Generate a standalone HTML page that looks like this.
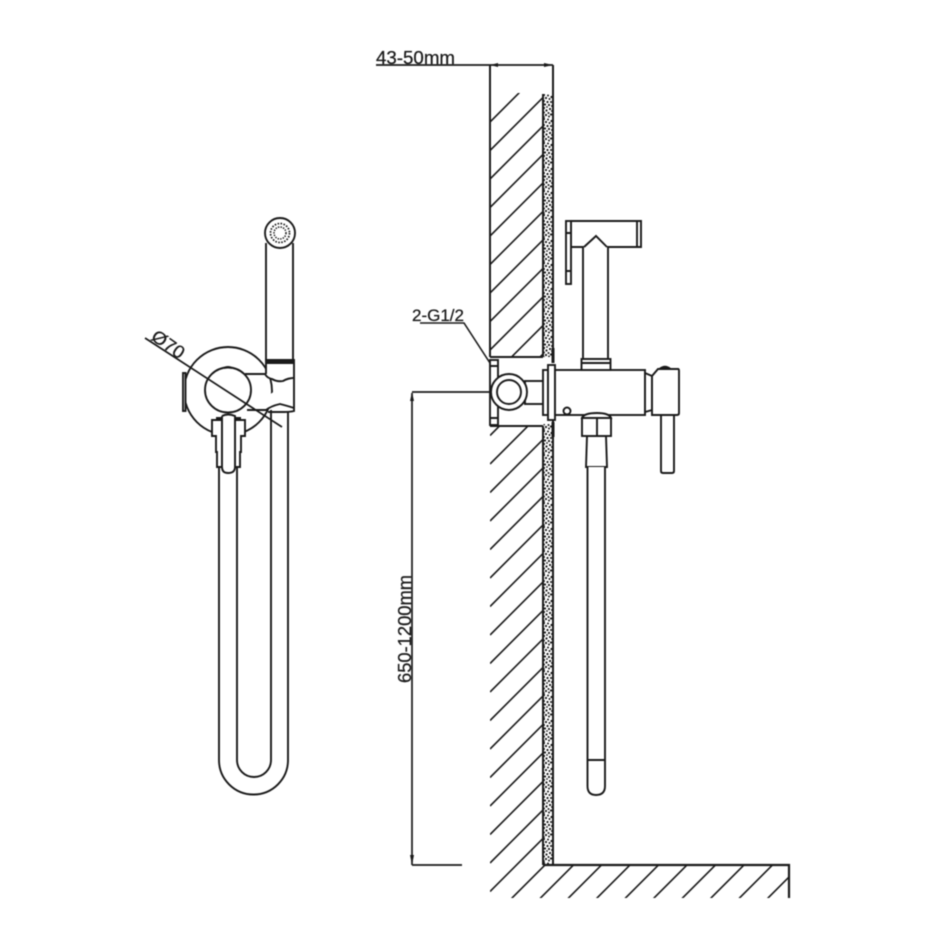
<!DOCTYPE html>
<html><head><meta charset="utf-8"><style>
html,body{margin:0;padding:0;background:#fff}
svg{display:block;filter:blur(0.4px)}
text{font-family:"Liberation Sans",sans-serif;fill:#1a1a1a;stroke:#1a1a1a;stroke-width:.25px}
</style></head><body>
<svg width="950" height="950" viewBox="0 0 950 950" xmlns="http://www.w3.org/2000/svg">
<defs>
<clipPath id="h"><path d="M490,93H543V357H490ZM490,426H543V865H789V898H490Z"/></clipPath>
<pattern id="st" width="10" height="24" patternUnits="userSpaceOnUse" x="543" y="94">
<g fill="#1a1a1a">
<circle cx="1" cy="1" r="1.100"/><circle cx="5" cy="1.500" r="1"/><circle cx="8.500" cy="3" r="1.100"/><circle cx="3" cy="4" r="1.100"/><circle cx="6.500" cy="5" r="1"/><circle cx="1" cy="7" r="1"/><circle cx="4.500" cy="8" r="1.100"/><circle cx="8" cy="8" r="1"/><circle cx="2" cy="10.500" r="1.100"/><circle cx="6" cy="11" r="1.100"/><circle cx="9" cy="12" r="1"/><circle cx="4" cy="13" r=".9"/><circle cx="1" cy="14" r="1.100"/><circle cx="7" cy="15" r="1.100"/><circle cx="3.500" cy="16.500" r="1.100"/><circle cx="9" cy="17" r="1"/><circle cx="1" cy="18.500" r="1"/><circle cx="5.500" cy="19" r="1"/><circle cx="8" cy="20.500" r="1.100"/><circle cx="3" cy="21" r="1.100"/><circle cx="6" cy="22.500" r="1"/><circle cx="1" cy="23" r=".9"/>
</g></pattern>
</defs>
<rect width="950" height="950" fill="#fff"/>

<!-- wall hatching -->
<g clip-path="url(#h)" stroke="#1a1a1a" stroke-width="1.600" fill="none">
<path d="M490,122L572,40M490,150.500L600,40.500M490,179L629,40M490,207.500L657,40.500M490,236L686,40M490,264.500L714,40.500M490,293L743,40M490,321.500L771,40.500M490,350L800,40M490,378.500L800,68.500M490,407L800,97M490,435.500L800,125.500M490,464L800,154M490,492.500L800,182.500M490,521L800,211M490,549.500L800,239.500M490,578L800,268M490,606.500L800,296.500M490,635L800,325M490,663.500L800,353.500M490,692L800,382M490,720.500L800,410.500M490,749L800,439M490,777.500L800,467.500M490,806L800,496M490,834.500L800,524.500M490,863L800,553M490,891.500L800,581.500M490,920L800,610M512,926.500L800,638.500M540,926.500L800,666.500M568.500,926.500L800,695M597,926.500L800,723.500M625.500,926.500L800,752M654,926.500L800,780.500M682.500,926.500L800,809M711,926.500L800,837.500M739.500,926.500L800,866M768,926.500L800,894.500"/>
</g>

<!-- wall outlines, plaster -->
<rect x="543.500" y="94" width="9.500" height="263" fill="url(#st)"/>
<rect x="543.500" y="424" width="9.500" height="441" fill="url(#st)"/>
<g stroke="#1a1a1a" fill="none" stroke-width="2">
<path d="M490,65V357M553,65V350M543,94V357M543,426V865"/>
<path d="M553,420V865"/>
<path d="M543,865H789V898" stroke-width="2.200"/>
<path d="M490,357H543M490,426H543"/>
<!-- dims -->
<path d="M376,65H553" stroke-width="1.800"/>
<path d="M412,393V865M412,392H508M412,865H462" stroke-width="1.700"/>
<path d="M420,323H464L501,380" stroke-width="1.600"/>
</g>
<g fill="#1a1a1a">
<path d="M490,65L498,63V67ZM553,65L544,63V67ZM412,392L410,401H414ZM412,865L410,855H414Z"/>
</g>
<text x="376" y="64" font-size="18" textLength="79" lengthAdjust="spacingAndGlyphs">43-50mm</text>
<text x="412" y="321" font-size="16.500" textLength="52" lengthAdjust="spacingAndGlyphs">2-G1/2</text>
<text transform="translate(411,683) rotate(-90)" font-size="18" textLength="108" lengthAdjust="spacingAndGlyphs">650-1200mm</text>

<!-- side view: valve -->
<g stroke="#1a1a1a" stroke-width="1.900" fill="#fff">
<rect x="490" y="360" width="8" height="65"/>
<path d="M490,366H498M490,418H498" fill="none"/>
<rect x="525" y="381" width="19" height="23"/>
<circle cx="509" cy="392" r="18"/>
<circle cx="509" cy="392" r="12"/>
<rect x="543" y="370" width="5" height="45"/>
<rect x="548" y="365" width="7" height="55"/>
<path d="M553,348V363M553,422V437" stroke-width="3" fill="none"/>
<rect x="555" y="370" width="90" height="45"/>
<circle cx="567" cy="411" r="3.500"/>
<path d="M645,373L652,376V410L645,412Z"/>
<path d="M660,369Q665,365 670,369" stroke-width="2.500"/>
<path d="M658,369H678Q679,369 679,371V413Q679,415 677,415H652V376Z"/>
<path d="M661,415H674V471Q674,473 672,473H663Q661,473 661,471Z"/>
<!-- handspray -->
<path d="M583,359V247H571V221H641V247H608V359Z"/>
<path d="M584,247L596,236L607,247" fill="#fff"/>
<rect x="566" y="221" width="5" height="63"/>
<path d="M566,233H571M566,271H571" fill="none"/>
<path d="M637,221V247" fill="none"/>
<rect x="581.500" y="359" width="29" height="11"/>
<path d="M581.500,363H610.500" fill="none"/>
<!-- lower fitting -->
<path d="M582,418Q584,413 597,413Q609,413 611,418Z"/>
<path d="M587,436H606L607,467H586Z"/>
<rect x="582" y="418" width="29" height="18"/>
<path d="M597,418V436" fill="none"/>
<path d="M587.500,467V786Q587.500,795 596,795Q605,795 605,786V467" />
<path d="M587.500,760H605" fill="none"/>
</g>

<!-- front view -->
<g stroke="#1a1a1a" stroke-width="1.900" fill="none">
<path d="M219,460V760A34.500,34.500 0 0 0 288,760V410"/>
<path d="M237,460V760A17,17 0 0 0 271,760V410"/>
<circle cx="228" cy="391" r="44"/>
<rect x="183" y="373" width="2.500" height="38" fill="#fff"/>
<path d="M245,374H265Q267,378 272,379Q277,382 283,381Q288,378 294,378V360H266V374" fill="#fff"/>
<path d="M247,410H266Q271,406 280,404Q288,406 294,408V378M294,408V411Q290,412 284,412H268" fill="#fff"/>
<path d="M266,363H294M266,361H294"/>
<path d="M266,361V243M293,361V243"/>
<circle cx="280" cy="233" r="15" fill="#fff"/>
<circle cx="280" cy="233" r="9.500" stroke-dasharray="1.600 1.400" stroke-width="1.700"/>
<circle cx="280" cy="233" r="6" stroke-dasharray="1.400 1.200" stroke-width="1.500"/>
<ellipse cx="228" cy="390" rx="23" ry="22.500" fill="#fff"/>
<path d="M224,368Q228,366 232,368"/>
<path d="M216,418H222V420H212V436H216V452H217V467H222V418Z" fill="#fff"/>
<path d="M241,418H235V420H245V436H241V452H240V467H235V418Z" fill="#fff"/>
<path d="M222,416V467Q222,473 228,473Q235,473 235,467V416Q228,413 222,416" fill="#fff"/>
<path d="M145,338L282,427" stroke-width="1.700"/>
</g>
<text transform="translate(150,339) rotate(35)" font-size="18" textLength="36" lengthAdjust="spacingAndGlyphs">Ø70</text>
</svg>
</body></html>
